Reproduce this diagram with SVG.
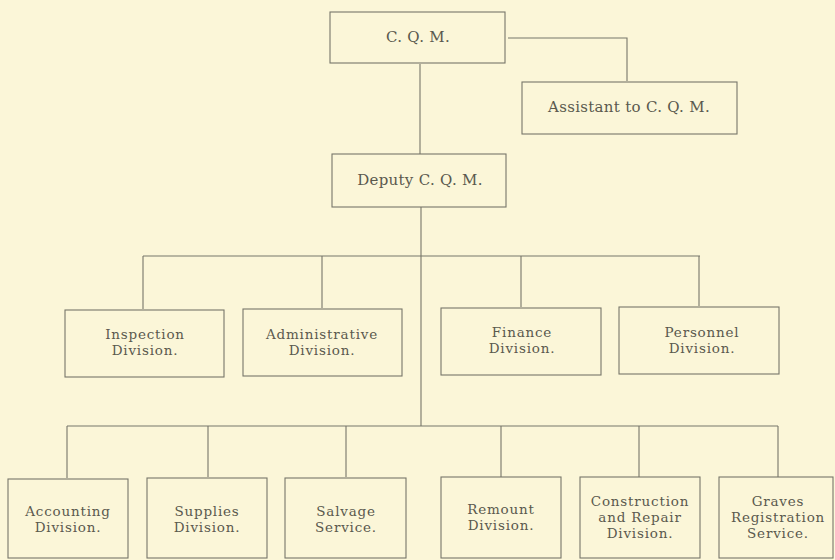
<svg xmlns="http://www.w3.org/2000/svg" width="835" height="560" viewBox="0 0 835 560">
<style>
.bg{fill:#fbf6d8}
.box{fill:none;stroke:#77766a;stroke-width:1.1}
.ln{fill:none;stroke:#77766a;stroke-width:1.1}
text{font-family:"DejaVu Serif","Liberation Serif",serif;font-size:13.5px;letter-spacing:0.8px;fill:#5a594e;text-anchor:middle}
text.one{font-size:15px;letter-spacing:0.3px}
</style>
<rect class="bg" x="0" y="0" width="835" height="560"/>
<g id="connectors">
<path class="ln" d="M508 38 H627 V81"/>
<path class="ln" d="M420 64 V154"/>
<path class="ln" d="M421 207 V426"/>
<path class="ln" d="M143 256 H700"/>
<path class="ln" d="M143 256 V309 M322 256 V308 M521 256 V307 M699 256 V306"/>
<path class="ln" d="M67 426 H778"/>
<path class="ln" d="M67 426 V478 M208 426 V477 M346 426 V477 M501 426 V477 M639 426 V477 M778 426 V477"/>
</g>
<g id="cqm"><rect class="box" x="330" y="12" width="175" height="51"/><text class="one" x="418" y="42">C. Q. M.</text></g>
<g id="assistant"><rect class="box" x="522" y="82" width="215" height="52"/><text class="one" x="629" y="112">Assistant to C. Q. M.</text></g>
<g id="deputy"><rect class="box" x="332" y="154" width="174" height="53"/><text class="one" x="420" y="185">Deputy C. Q. M.</text></g>
<g id="inspection"><rect class="box" x="65" y="310" width="159" height="67"/><text x="145" y="339">Inspection</text><text x="145" y="355">Division.</text></g>
<g id="administrative"><rect class="box" x="243" y="309" width="159" height="67"/><text x="322" y="339">Administrative</text><text x="322" y="355">Division.</text></g>
<g id="finance"><rect class="box" x="441" y="308" width="160" height="67"/><text x="522" y="337">Finance</text><text x="522" y="353">Division.</text></g>
<g id="personnel"><rect class="box" x="619" y="307" width="160" height="67"/><text x="702" y="337">Personnel</text><text x="702" y="353">Division.</text></g>
<g id="accounting"><rect class="box" x="8" y="479" width="120" height="79"/><text x="68" y="516">Accounting</text><text x="68" y="532">Division.</text></g>
<g id="supplies"><rect class="box" x="147" y="478" width="120" height="80"/><text x="207" y="516">Supplies</text><text x="207" y="532">Division.</text></g>
<g id="salvage"><rect class="box" x="285" y="478" width="121" height="80"/><text x="346" y="516">Salvage</text><text x="346" y="532">Service.</text></g>
<g id="remount"><rect class="box" x="441" y="477" width="120" height="81"/><text x="501" y="514">Remount</text><text x="501" y="530">Division.</text></g>
<g id="construction"><rect class="box" x="580" y="477" width="120" height="81"/><text x="640" y="506">Construction</text><text x="640" y="522">and Repair</text><text x="640" y="538">Division.</text></g>
<g id="graves"><rect class="box" x="719" y="477" width="114" height="81"/><text x="778" y="506">Graves</text><text x="778" y="522">Registration</text><text x="778" y="538">Service.</text></g>
</svg>
